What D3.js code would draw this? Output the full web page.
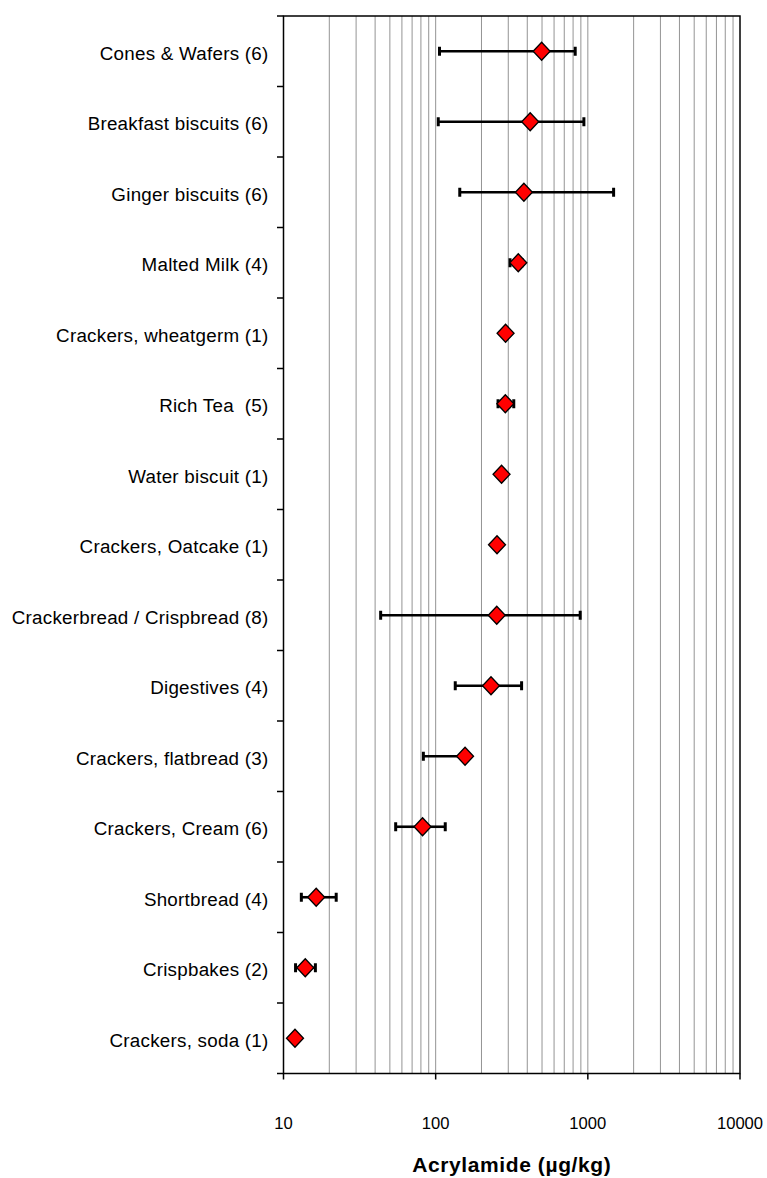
<!DOCTYPE html>
<html>
<head>
<meta charset="utf-8">
<script src="https://cdn.jsdelivr.net/npm/d3@7"></script>
<style>
  html, body { margin: 0; padding: 0; background: #ffffff; }
  svg { display: block; font-family: "Liberation Sans", Arial, sans-serif; }
  .cat { white-space: pre; }
</style>
</head>
<body>
<svg id="chart" width="767" height="1178"></svg>
<script>
// Product groups (number of samples in brackets), top to bottom
const categories = [
  "Cones & Wafers (6)",
  "Breakfast biscuits (6)",
  "Ginger biscuits (6)",
  "Malted Milk (4)",
  "Crackers, wheatgerm (1)",
  "Rich Tea  (5)",
  "Water biscuit (1)",
  "Crackers, Oatcake (1)",
  "Crackerbread / Crispbread (8)",
  "Digestives (4)",
  "Crackers, flatbread (3)",
  "Crackers, Cream (6)",
  "Shortbread (4)",
  "Crispbakes (2)",
  "Crackers, soda (1)"
];

// Mean acrylamide level (µg/kg)
const meanValues = [497, 418, 380, 349, 288, 287, 271, 253, 252, 231, 156, 82, 16.4, 13.9, 11.9];
// Lower and upper ends of the range bars (null = no bar)
const lowValues  = [106, 104, 144, 308, null, 257, null, null, 43.5, 134.5, 83, 54.6, 13.1, 12.0, null];
const highValues = [826, 942, 1477, 370, null, 326, null, null, 891, 367, null, 115.6, 22.2, 16.2, null];

// Axis ticks
const xTickValues = [10, 100, 1000, 10000];
const xTickLabels = ["10", "100", "1000", "10000"];
const xTitle = "Acrylamide (µg/kg)";

const svg = d3.select("#chart");
const plot = { left: 283.5, right: 740, top: 16, bottom: 1073.5 };

const x = d3.scaleLog().domain([10, 10000]).range([plot.left, plot.right]);
const y = d3.scaleBand().domain(categories).range([plot.top, plot.bottom]).padding(0);
const yc = c => y(c) + y.bandwidth() / 2;

// Vertical gridlines at every log minor step
const gridValues = [];
[10, 100, 1000].forEach(dec => {
  for (let k = 2; k <= 10; k++) gridValues.push(dec * k);
});
svg.append("g")
  .selectAll("line")
  .data(gridValues.filter(v => v < 10000))
  .join("line")
  .attr("x1", d => x(d)).attr("x2", d => x(d))
  .attr("y1", plot.top).attr("y2", plot.bottom)
  .attr("stroke", "#949494")
  .attr("stroke-width", 1);

// Plot frame
svg.append("rect")
  .attr("x", plot.left).attr("y", plot.top)
  .attr("width", plot.right - plot.left)
  .attr("height", plot.bottom - plot.top)
  .attr("fill", "none")
  .attr("stroke", "#000000")
  .attr("stroke-width", 1.5);

// Y axis: ticks at category boundaries
const yBounds = categories.map(c => y(c)).concat([plot.bottom]);
svg.append("g")
  .selectAll("line")
  .data(yBounds)
  .join("line")
  .attr("x1", plot.left - 6.5).attr("x2", plot.left)
  .attr("y1", d => d).attr("y2", d => d)
  .attr("stroke", "#000000")
  .attr("stroke-width", 1.5);

svg.append("g")
  .selectAll("text")
  .data(categories)
  .join("text")
  .attr("class", "cat")
  .attr("x", plot.left - 15)
  .attr("y", d => yc(d) + 8.7)
  .attr("text-anchor", "end")
  .attr("font-size", 18.8)
  .attr("letter-spacing", 0.25)
  .attr("fill", "#000000")
  .text(d => d);

// X axis: ticks and labels
const xAxis = svg.append("g");
xAxis.selectAll("line")
  .data(xTickValues)
  .join("line")
  .attr("x1", d => x(d)).attr("x2", d => x(d))
  .attr("y1", plot.bottom).attr("y2", plot.bottom + 6)
  .attr("stroke", "#000000")
  .attr("stroke-width", 1.5);
xAxis.selectAll("text")
  .data(xTickValues)
  .join("text")
  .attr("x", d => x(d))
  .attr("y", 1129)
  .attr("text-anchor", "middle")
  .attr("font-size", 16.6)
  .attr("fill", "#000000")
  .text((d, i) => xTickLabels[i]);

svg.append("text")
  .attr("x", (plot.left + plot.right) / 2)
  .attr("y", 1171.5)
  .attr("text-anchor", "middle")
  .attr("font-size", 21)
  .attr("font-weight", "bold")
  .attr("letter-spacing", 0.6)
  .attr("fill", "#000000")
  .text(xTitle);

// Range bars
const rows = categories.map((c, i) => ({
  cat: c, mean: meanValues[i], low: lowValues[i], high: highValues[i]
}));

const bars = svg.append("g");
rows.forEach(r => {
  const cy = yc(r.cat);
  const segs = [];
  if (r.low != null) segs.push(r.low);
  if (r.high != null) segs.push(r.high);
  segs.forEach(end => {
    bars.append("line")
      .attr("x1", x(r.mean)).attr("x2", x(end))
      .attr("y1", cy).attr("y2", cy)
      .attr("stroke", "#000000")
      .attr("stroke-width", 2.6);
    bars.append("line")
      .attr("x1", x(end)).attr("x2", x(end))
      .attr("y1", cy - 4.5).attr("y2", cy + 4.5)
      .attr("stroke", "#000000")
      .attr("stroke-width", 3);
  });
});

// Diamond markers for the means
const diamond = (cx, cy) => {
  const w = 8.5, h = 9;
  return `M${cx},${cy - h}L${cx + w},${cy}L${cx},${cy + h}L${cx - w},${cy}Z`;
};
svg.append("g")
  .selectAll("path")
  .data(rows)
  .join("path")
  .attr("d", d => diamond(x(d.mean), yc(d.cat)))
  .attr("fill", "#ff0000")
  .attr("stroke", "#000000")
  .attr("stroke-width", 1.3);
</script>
</body>
</html>
